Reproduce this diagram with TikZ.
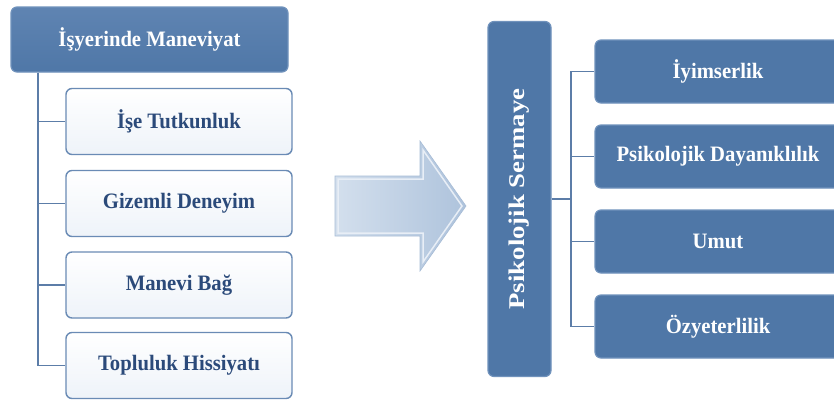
\documentclass[tikz,border=0pt]{standalone}
\usepackage{fontspec}
\setmainfont{Liberation Serif}
\definecolor{darkfill}{HTML}{4F77A7}
\definecolor{darktop}{HTML}{5F84B2}
\definecolor{darkedge}{HTML}{7092BC}
\definecolor{lightfill}{HTML}{EEF3F9}
\definecolor{lightedge}{HTML}{6A8BB5}
\definecolor{lighttext}{HTML}{2B4A7A}
\definecolor{connc}{HTML}{5C7DA8}
\definecolor{arrowl}{HTML}{D3DFED}
\definecolor{arrowr}{HTML}{AEC3DC}
\definecolor{arrowedge}{HTML}{E8EEF6}
\definecolor{arrowout}{HTML}{A7BCD6}
\newcommand{\hx}[1]{\scalebox{0.94}[1]{#1}}
\begin{document}
\begin{tikzpicture}[x=1pt,y=-1pt,
  bigfont/.style={font=\fontsize{22}{26}\selectfont\bfseries},
  darkbox/.style={rounded corners=6pt, top color=darktop, bottom color=darkfill, draw=darkedge, line width=1.2pt, text=white, bigfont, inner sep=0pt},
  flatbox/.style={rounded corners=6pt, fill=darkfill, draw=darkedge, line width=1.2pt, text=white, bigfont, inner sep=0pt},
  lightbox/.style={rounded corners=6pt, top color=white, bottom color=lightfill, draw=lightedge, line width=1.4pt, text=lighttext, bigfont, inner sep=0pt},
  conn/.style={draw=connc, line width=1.8pt},
  connr/.style={draw=connc, line width=1.4pt}]
\useasboundingbox (0,0) rectangle (834,399);
\clip (0,0) rectangle (834,399);
\fill[white] (0,0) rectangle (834,399);

% left hierarchy
\node[darkbox, minimum width=277pt, minimum height=65pt] (title) at (149.5,39.5) {\hx{İşyerinde Maneviyat}};
\node[lightbox, minimum width=226pt, minimum height=66pt] (c1) at (179,121.5) {\hx{İşe Tutkunluk}};
\node[lightbox, minimum width=226pt, minimum height=66pt] (c2) at (179,203.5) {\hx{Gizemli Deneyim}};
\node[lightbox, minimum width=226pt, minimum height=66pt] (c3) at (179,285) {\hx{Manevi Bağ}};
\node[lightbox, minimum width=226pt, minimum height=66pt] (c4) at (179,365.5) {\hx{Topluluk Hissiyatı}};

\coordinate (lt) at (38,72.6);
\draw[conn] (lt) |- (c4.west);
\draw[conn] (lt |- c1.west) -- (c1.west);
\draw[conn] (lt |- c2.west) -- (c2.west);
\draw[conn] (lt |- c3.west) -- (c3.west);

% block arrow
\path[left color=arrowl, right color=arrowr, draw=arrowout, line width=0.6pt]
  (335,176) -- (420,176) -- (420,141) -- (466,206) -- (420,271) -- (420,236) -- (335,236) -- cycle;
\draw[arrowedge, line width=1.5pt, line join=miter]
  (338,179) -- (423,179) -- (423,150) -- (462,206) -- (423,262) -- (423,233) -- (338,233) -- cycle;

% right hierarchy
\node[flatbox, rotate=90, minimum width=355pt, minimum height=63pt, font=\fontsize{22.5}{26}\selectfont\bfseries] (ps) at (519.5,199) {\scalebox{1.19}[1]{Psikolojik Sermaye}};
\node[flatbox, minimum width=246pt, minimum height=63pt] (r1) at (718,71.5) {\hx{İyimserlik}};
\node[flatbox, minimum width=246pt, minimum height=63pt] (r2) at (718,156.5) {\hx{Psikolojik Dayanıklılık}};
\node[flatbox, minimum width=246pt, minimum height=63pt] (r3) at (718,241.5) {\hx{Umut}};
\node[flatbox, minimum width=246pt, minimum height=63pt] (r4) at (718,326.5) {\hx{Özyeterlilik}};

\coordinate (rt) at (571,199);
\draw[connr] (ps.south) -- (rt);
\draw[connr] (r1.west) -| (rt |- r1.west) -- (rt |- r4.west) -- (r4.west);
\draw[connr] (rt |- r2.west) -- (r2.west);
\draw[connr] (rt |- r3.west) -- (r3.west);
\end{tikzpicture}
\end{document}
